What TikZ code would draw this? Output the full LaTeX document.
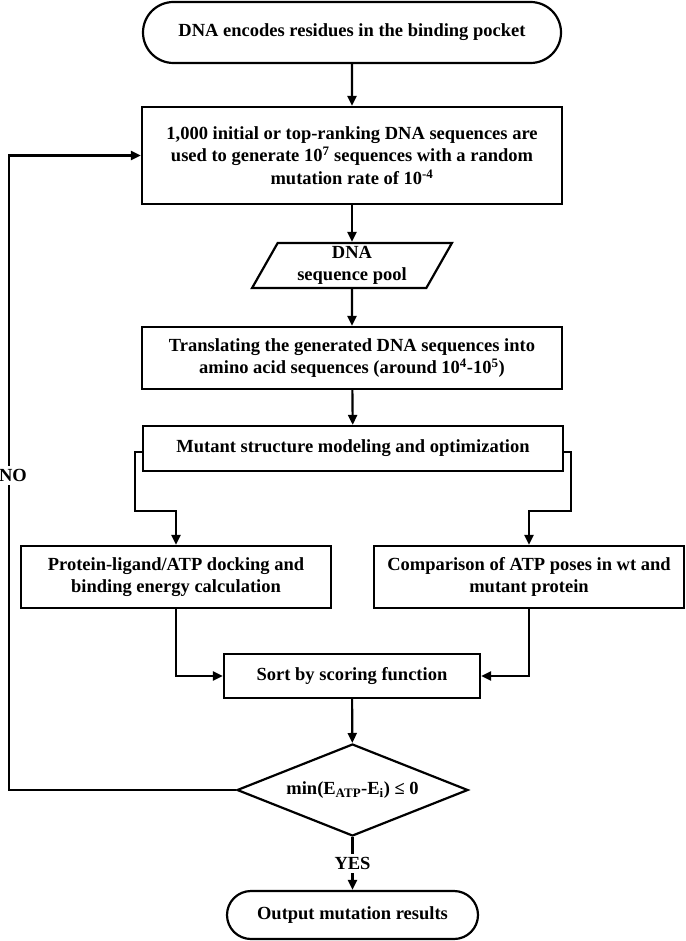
\documentclass[tikz,border=0pt]{standalone}
\usepackage{fontspec}
\setmainfont{Liberation Serif}
\usetikzlibrary{arrows.meta,shapes.misc,shapes.geometric}

\begin{document}
\begin{tikzpicture}[x=1pt,y=-1pt,
        every node/.style={font=\bfseries\fontsize{18.5pt}{22.5pt}\selectfont, align=center},
        box/.style={draw, rectangle, inner sep=0pt, line width=2.2pt},
        terminal/.style={draw, rounded rectangle, inner sep=0pt, line width=2.2pt},
        io/.style={draw, trapezium, trapezium left angle=64, trapezium right angle=116,
            trapezium stretches=true, inner sep=0pt, line width=2.2pt},
        decision/.style={draw, diamond, aspect=2.5, inner sep=1pt, line width=2.2pt},
        lbl/.style={fill=white, inner sep=3pt},
        arr/.style={line width=2.2pt, -{Triangle[length=10pt,width=9pt]}}]
        \useasboundingbox (0,0) rectangle (685,941);

        \node[terminal, minimum width=418pt, minimum height=61pt] (start) at (352,32.5) {DNA encodes residues in the binding pocket};
        \node[box, minimum width=420pt, minimum height=97pt] (gen) at (352,155.5)
            {1,000 initial or top-ranking DNA sequences are\\used to generate 10\textsuperscript{7} sequences with a random\\mutation rate of 10\textsuperscript{-4}};
        \node[io, minimum width=200pt, minimum height=45pt] (pool) at (352,265.5) {DNA\\sequence pool};
        \node[box, minimum width=420pt, minimum height=62pt] (trans) at (352,358)
            {Translating the generated DNA sequences into\\amino acid sequences (around 10\textsuperscript{4}-10\textsuperscript{5})};
        \node[box, minimum width=420pt, minimum height=45pt] (model) at (353,448.5) {Mutant structure modeling and optimization};
        \node[box, minimum width=310pt, minimum height=62pt] (dock) at (176,577)
            {Protein-ligand/ATP docking and\\binding energy calculation};
        \node[box, minimum width=310pt, minimum height=62pt] (comp) at (529,577)
            {Comparison of ATP poses in wt and\\mutant protein};
        \node[box, minimum width=256pt, minimum height=44pt] (sort) at (352,676) {Sort by scoring function};
        \node[decision, minimum width=231pt, minimum height=92pt] (check) at (352.5,790)
            {min(E\textsubscript{ATP}-E\textsubscript{i}) ≤ 0};
        \node[terminal, minimum width=251pt, minimum height=48pt] (stop) at (352.5,915) {Output mutation results};

        \draw[arr] (start) -- (gen);
        \draw[arr] (gen) -- (pool);
        \draw[arr] (pool) -- (trans);
        \draw[arr] (trans) -- (model);
        \draw[arr] ([yshift=-3.5pt]model.west) -- ++(-7,0) |- ([yshift=34pt]dock.north) -- (dock.north);
        \draw[arr] ([yshift=-3.5pt]model.east) -- ++(7,0) |- ([yshift=34pt]comp.north) -- (comp.north);
        \draw[arr] (dock.south) |- (sort.west);
        \draw[arr] (comp.south) |- (sort.east);
        \draw[arr] (sort) -- (check);
        \draw[arr] (check.west) -- ++(-227,0) |- node[pos=0.248, lbl, xshift=4pt] {NO} (gen.west);
        \draw[arr] (check.south) -- node[lbl] {YES} (stop.north);
    \end{tikzpicture}
\end{document}
